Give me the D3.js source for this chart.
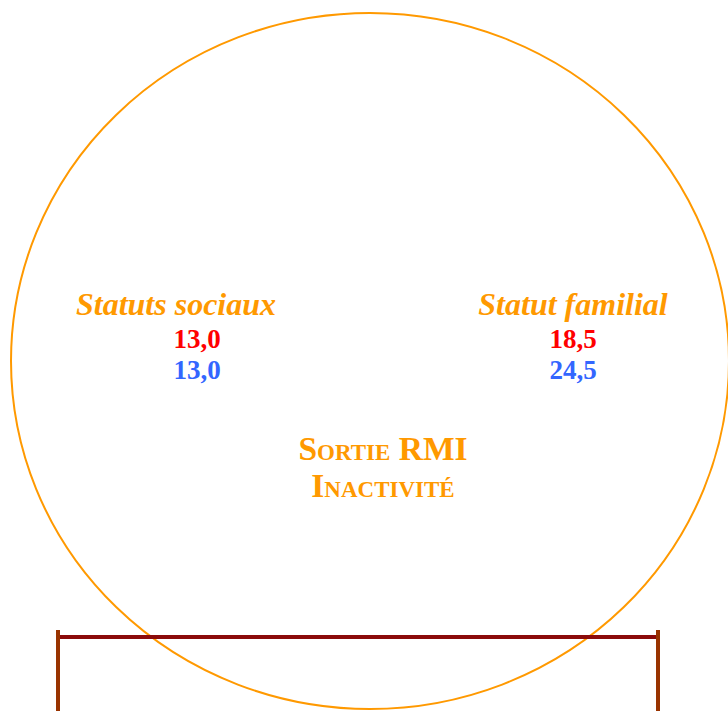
<!DOCTYPE html>
<html><head><meta charset="utf-8">
<script src="https://cdn.jsdelivr.net/npm/d3@7"></script>
<style>html,body{margin:0;padding:0;background:#fff;overflow:hidden}</style>
</head><body>
<script>
const categories = ["Statuts sociaux", "Statut familial"];
const seriesRed = [13.0, 18.5];
const seriesBlue = [13.0, 24.5];
const titleLines = ["Sortie RMI", "Inactivité"];

const W = 728, H = 711;
const svg = d3.select("body").append("svg").attr("width", W).attr("height", H);
const fmt = v => d3.format(".1f")(v).replace(".", ",");
const x = d3.scalePoint().domain(categories).range([197, 573]);
const xLabel = d3.scalePoint().domain(categories).range([176, 573]);

svg.append("ellipse").attr("cx", 370).attr("cy", 361).attr("rx", 359).attr("ry", 348)
  .attr("fill", "none").attr("stroke", "#FF9900").attr("stroke-width", 2);

const serif = "'Liberation Serif', 'Times New Roman', serif";
svg.selectAll("text.cat").data(categories).join("text").attr("class", "cat")
  .attr("x", d => xLabel(d)).attr("y", 315).attr("text-anchor", "middle")
  .attr("font-family", serif).attr("font-weight", "bold").attr("font-style", "italic")
  .attr("font-size", 32).attr("fill", "#FF9900").text(d => d);
svg.selectAll("text.red").data(seriesRed).join("text").attr("class", "red")
  .attr("x", (d, i) => x(categories[i])).attr("y", 348).attr("text-anchor", "middle")
  .attr("font-family", serif).attr("font-weight", "bold")
  .attr("font-size", 27).attr("fill", "#FF0000").text(fmt);
svg.selectAll("text.blue").data(seriesBlue).join("text").attr("class", "blue")
  .attr("x", (d, i) => x(categories[i])).attr("y", 379).attr("text-anchor", "middle")
  .attr("font-family", serif).attr("font-weight", "bold")
  .attr("font-size", 27).attr("fill", "#3366FF").text(fmt);

svg.selectAll("text.title").data(titleLines).join("text").attr("class", "title")
  .attr("x", 383).attr("y", (d, i) => 460 + i * 37).attr("text-anchor", "middle")
  .attr("font-family", serif).attr("font-weight", "bold").style("font-variant", "small-caps")
  .attr("font-size", 33.5).attr("fill", "#FF9900").text(d => d);

// bracket
svg.append("line").attr("x1", 58).attr("x2", 658).attr("y1", 637).attr("y2", 637)
  .attr("stroke", "#8B0A0A").attr("stroke-width", 4);
[58, 658].forEach(xx => {
  svg.append("line").attr("x1", xx).attr("x2", xx).attr("y1", 630).attr("y2", H)
    .attr("stroke", "#993300").attr("stroke-width", 4);
});
</script>
</body></html>
